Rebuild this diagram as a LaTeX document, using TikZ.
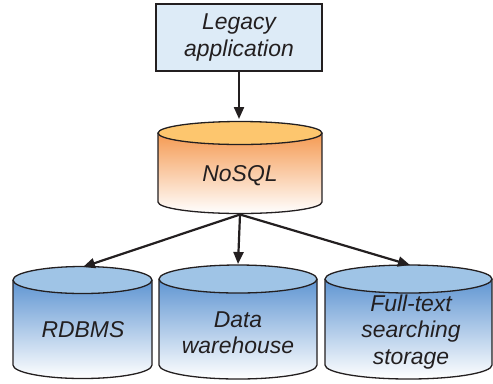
\documentclass[tikz,border=0pt]{standalone}
\usepackage{fontspec}
\setmainfont{Liberation Sans}
\usetikzlibrary{arrows.meta}
\definecolor{edgecol}{HTML}{231F20}
\definecolor{boxfill}{HTML}{DDEBF7}
\definecolor{bluetop}{HTML}{9FC4E6}
\definecolor{bluebody}{HTML}{5F95D2}
\definecolor{orangetop}{HTML}{FDC66E}
\definecolor{orangebody}{HTML}{F59A52}
% #1 cx, #2 rx, #3 ytop, #4 height, #5 ry, #6 top colour, #7 body colour
\newcommand\dbcyl[7]{%
  \begin{scope}[shift={(#1,#3)}]
    \path[top color=#7, bottom color=white]
      (-#2,0) -- (-#2,#4) arc[start angle=180, end angle=360, x radius=#2bp, y radius=#5bp]
      -- (#2,0) arc[start angle=0, end angle=-180, x radius=#2bp, y radius=#5bp] -- cycle;
    \draw[cylline] (-#2,0) -- (-#2,#4) arc[start angle=180, end angle=360, x radius=#2bp, y radius=#5bp] -- (#2,0);
    \draw[cylline, fill=#6] (0,0) ellipse[x radius=#2bp, y radius=#5bp];
  \end{scope}}
\begin{document}
\begin{tikzpicture}[x=1bp, y=-1bp,
  cylline/.style={draw=edgecol, line width=1.3bp},
  lbl/.style={inner sep=0pt, align=center, text=edgecol,
    font=\itshape\fontsize{23}{26.5}\selectfont},
  legbox/.style={lbl, draw=edgecol, line width=1.3bp, fill=boxfill,
    minimum width=166bp, minimum height=67bp},
  flow/.style={draw=edgecol, line width=2.2bp, -{Triangle[length=12bp, width=10bp]}}]
\useasboundingbox (0,0) rectangle (493,383);

\dbcyl{240}{82}{133}{69}{11.5}{orangetop}{orangebody}
\dbcyl{82.5}{69.5}{280}{85}{13.5}{bluetop}{bluebody}
\dbcyl{238}{79}{279}{86}{14}{bluetop}{bluebody}
\dbcyl{408.5}{83.5}{279}{86}{14}{bluetop}{bluebody}

\node[legbox] (legacy) at (239,37.5) {Legacy\\application};
\node[lbl] (nosql) at (240,176) {NoSQL};
\node[lbl] (rdbms) at (83,330) {RDBMS};
\node[lbl] (dw) at (238,333) {Data\\warehouse};
\node[lbl] (fts) at (411,332) {Full-text\\searching\\storage};

\coordinate (nosqlTop) at (239,119);
\coordinate (nosqlBot) at (240,214.5);
\coordinate (rdbmsTop) at (83,267);
\coordinate (dwTop) at (238,264);
\coordinate (ftsTop) at (410,265);

\draw[flow] (legacy.south) -- (nosqlTop);
\draw[flow] (nosqlBot) -- (rdbmsTop);
\draw[flow] (nosqlBot) -- (dwTop);
\draw[flow] (nosqlBot) -- (ftsTop);
\end{tikzpicture}
\end{document}
